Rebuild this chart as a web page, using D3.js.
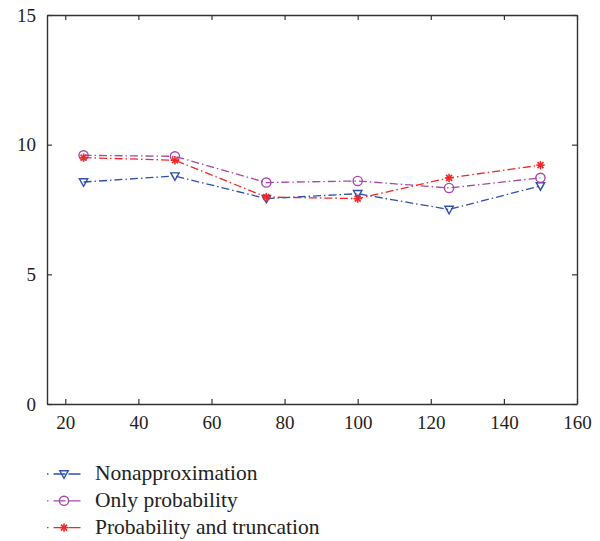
<!DOCTYPE html>
<html>
<head>
<meta charset="utf-8">
<script src="https://cdn.jsdelivr.net/npm/d3@7"></script>
<style>
  body { margin: 0; background: #fff; }
  text { font-family: "Liberation Serif", "DejaVu Serif", serif; fill: #222; }
</style>
</head>
<body>
<svg id="chart"></svg>
<script>
// data
const xValues = [25, 50, 75, 100, 125, 150];
const nonApprox = [8.56, 8.79, 7.92, 8.11, 7.50, 8.41];
const onlyProb = [9.59, 9.55, 8.54, 8.60, 8.33, 8.72];
const probTrunc = [9.50, 9.40, 7.98, 7.92, 8.72, 9.21];
const seriesNames = ["Nonapproximation", "Only probability", "Probability and truncation"];
const xTicks = [20, 40, 60, 80, 100, 120, 140, 160];
const yTicks = [0, 5, 10, 15];

const config = {
    width: 600,
    height: 541,
    margin: {top: 15, right: 23, bottom: 137, left: 47}
};

const series = [
    {name: seriesNames[0], values: nonApprox, color: "#3050aa", marker: "tri"},
    {name: seriesNames[1], values: onlyProb, color: "#a748a8", marker: "circle"},
    {name: seriesNames[2], values: probTrunc, color: "#f42626", marker: "star"}
];

const svg = d3.select("#chart")
    .attr("width", config.width)
    .attr("height", config.height);

const innerW = config.width - config.margin.left - config.margin.right;
const innerH = config.height - config.margin.top - config.margin.bottom;

const x = d3.scaleLinear().domain([15, 160]).range([0, innerW]);
const y = d3.scaleLinear().domain([0, 15]).range([innerH, 0]);

const chart = svg.append("g")
    .attr("transform", `translate(${config.margin.left},${config.margin.top})`);

// axes, ticks pointing inward (box style)
const axisColor = "#333";
const axBottom = chart.append("g").attr("transform", `translate(0,${innerH})`)
    .call(d3.axisBottom(x).tickValues(xTicks).tickSizeInner(-5).tickSizeOuter(0).tickPadding(12));
const axLeft = chart.append("g")
    .call(d3.axisLeft(y).tickValues(yTicks).tickSizeInner(-5).tickSizeOuter(0).tickPadding(11));
const axTop = chart.append("g")
    .call(d3.axisTop(x).tickValues(xTicks).tickSizeInner(-5).tickSizeOuter(0).tickFormat(""));
const axRight = chart.append("g").attr("transform", `translate(${innerW},0)`)
    .call(d3.axisRight(y).tickValues(yTicks).tickSizeInner(-5).tickSizeOuter(0).tickFormat(""));

[axBottom, axLeft, axTop, axRight].forEach(g => {
    g.select(".domain").attr("stroke", axisColor).attr("stroke-width", 1.4);
    g.selectAll(".tick line").attr("stroke", axisColor).attr("stroke-width", 1.2);
    g.selectAll(".tick text")
        .style("font-family", "Liberation Serif, serif")
        .style("font-size", "19px")
        .attr("fill", "#222");
});

const line = d3.line()
    .x((d, i) => x(xValues[i]))
    .y(d => y(d));

const dash = "8,3,1.5,3";

function drawMarker(g, type, color) {
    if (type === "tri") {
        g.append("path")
            .attr("d", "M-4.2,-3.2 L4.2,-3.2 L0,4.3 Z")
            .attr("fill", "none").attr("stroke", color).attr("stroke-width", 1.4);
    } else if (type === "circle") {
        g.append("circle").attr("r", 4.6)
            .attr("fill", "none").attr("stroke", color).attr("stroke-width", 1.4);
    } else {
        const r = 4.2;
        [0, 45, 90, 135].forEach(a => {
            const rad = a * Math.PI / 180;
            g.append("line")
                .attr("x1", -r * Math.cos(rad)).attr("y1", -r * Math.sin(rad))
                .attr("x2", r * Math.cos(rad)).attr("y2", r * Math.sin(rad))
                .attr("stroke", color).attr("stroke-width", 1.6);
        });
    }
}

series.forEach(s => {
    chart.append("path")
        .datum(s.values)
        .attr("d", line)
        .attr("fill", "none")
        .attr("stroke", s.color)
        .attr("stroke-width", 1.3)
        .attr("stroke-dasharray", dash);
    s.values.forEach((v, i) => {
        const g = chart.append("g").attr("transform", `translate(${x(xValues[i])},${y(v)})`);
        drawMarker(g, s.marker, s.color);
    });
});

// legend under the plot
const legend = svg.append("g").attr("transform", "translate(47,474)");
series.forEach((s, i) => {
    const row = legend.append("g").attr("transform", `translate(0,${i * 26.8})`);
    row.append("line")
        .attr("x1", 0).attr("x2", 35).attr("y1", 0).attr("y2", 0)
        .attr("stroke", s.color).attr("stroke-width", 1.3)
        .attr("stroke-dasharray", "1.5,5,12,3,12");
    drawMarker(row.append("g").attr("transform", "translate(17,0)"), s.marker, s.color);
    row.append("text")
        .attr("x", 48).attr("y", 6)
        .style("font-size", "21.5px")
        .text(s.name);
});
</script>
</body>
</html>
